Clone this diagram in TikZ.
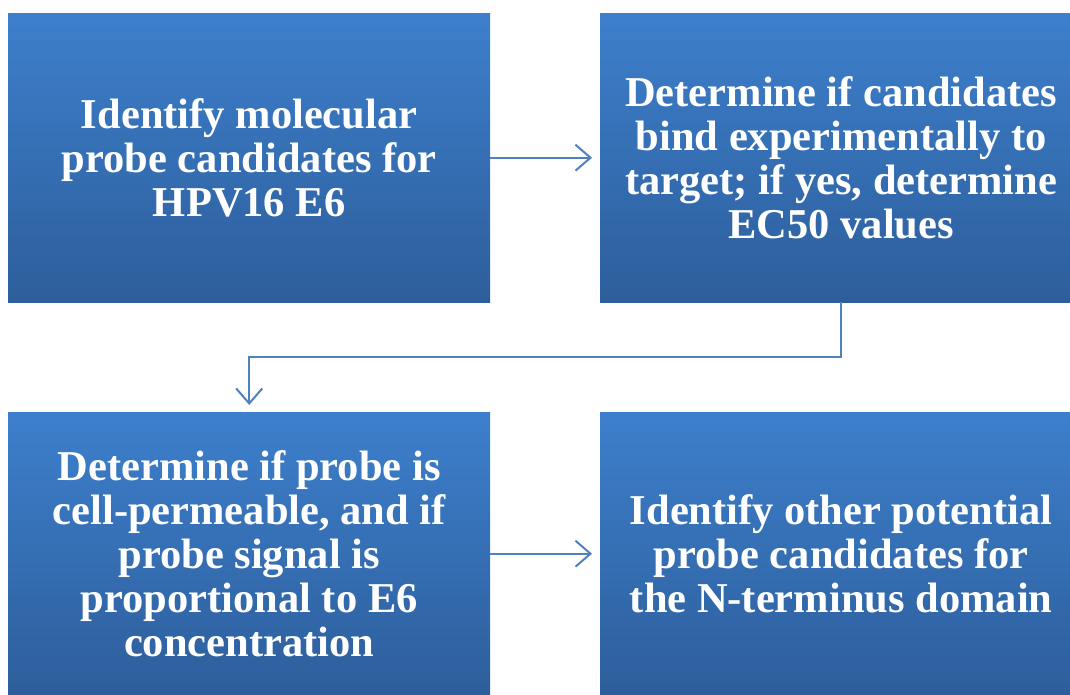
\documentclass[tikz,border=0pt]{standalone}
\usepackage{fontspec}
\setmainfont{Liberation Serif}
\usetikzlibrary{arrows.meta}
\definecolor{boxtop}{HTML}{3D7FCC}
\definecolor{boxbot}{HTML}{2D5E9B}
\definecolor{linkblue}{HTML}{4F81BD}
\tikzset{
  stepbox/.style={rectangle, draw=none, top color=boxtop, bottom color=boxbot,
    text=white, font=\bfseries\fontsize{42.5}{43.8}\selectfont, align=center,
    inner sep=0pt, anchor=north west},
  link/.style={draw=linkblue, line width=2pt,
    -{Straight Barb[length=15pt,width=26pt,line width=2pt]}}
}
% centred text block, nudged right by #1 inside a box of width #2
\newcommand{\shiftedtext}[3]{\hspace*{#1}\parbox{\dimexpr#2-#1\relax}{\centering #3}}
\begin{document}
\begin{tikzpicture}[x=1pt,y=-1pt]
  \useasboundingbox (0,0) rectangle (1070,695);
  \node[stepbox, minimum width=482pt, minimum height=289pt] (b1) at (8,13)
    {Identify molecular\\probe candidates for\\HPV16 E6};
  \node[stepbox, minimum width=470pt, minimum height=289pt] (b2) at (600,13)
    {\shiftedtext{12pt}{470pt}{Determine if candidates\\bind experimentally to\\target; if yes, determine\\EC50 values}};
  \node[stepbox, minimum width=482pt, minimum height=283pt] (b3) at (8,412)
    {\raisebox{-7pt}{\parbox{482pt}{\centering Determine if probe is\\cell-permeable, and if\\probe signal is\\proportional to E6\\concentration}}};
  \node[stepbox, minimum width=470pt, minimum height=283pt] (b4) at (600,412)
    {\raisebox{-8pt}{\shiftedtext{12pt}{470pt}{Identify other potential\\probe candidates for\\the N-terminus domain}}};
  \coordinate (t1) at ([xshift=-8pt]b2.west);
  \coordinate (t2) at ([xshift=-8pt]b4.west |- b3.east);
  \draw[link] (b1.east) -- (t1);
  \draw[link] (b3.east) -- (t2);
  \coordinate (bend) at ([xshift=6pt]b2.south);
  \draw[link] (bend) -- ++(0,55) -| ([yshift=7pt]b3.north);
\end{tikzpicture}
\end{document}
